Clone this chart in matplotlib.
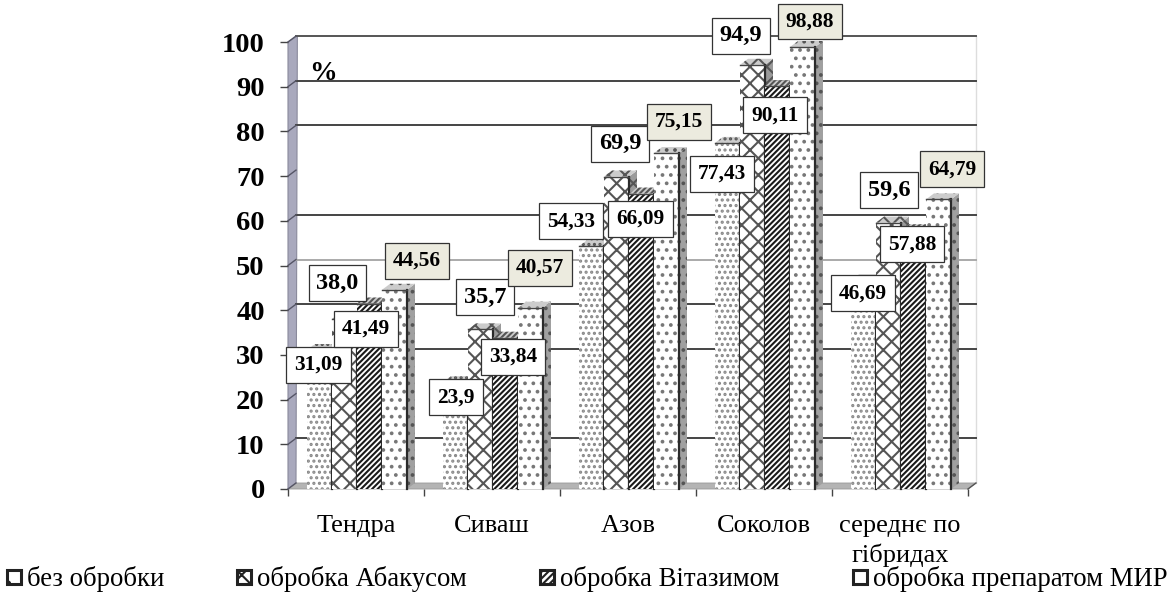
import numpy as np
import matplotlib
matplotlib.use('Agg')
import matplotlib.pyplot as plt
from matplotlib.patches import Polygon, Rectangle

plt.rcParams['font.family'] = ['Liberation Serif', 'DejaVu Serif']
plt.rcParams['hatch.linewidth'] = 1.5

categories = ['Тендра', 'Сиваш', 'Азов', 'Соколов', 'середнє по\nгібридах']
series_names = ['без обробки', 'обробка Абакусом', 'обробка Вітазимом', 'обробка препаратом МИР']
bez_obrobky = [31.09, 23.9, 54.33, 77.43, 46.69]
abakus = [38.0, 35.7, 69.9, 94.9, 59.6]
vitazym = [41.49, 33.84, 66.09, 90.11, 57.88]
mir = [44.56, 40.57, 75.15, 98.88, 64.79]
series = [bez_obrobky, abakus, vitazym, mir]
y_ticks = np.arange(0, 101, 10)

# label text as printed in the source, then offset from bar top in pixels
label_text = [['31,09', '23,9', '54,33', '77,43', '46,69'],
              ['38,0', '35,7', '69,9', '94,9', '59,6'],
              ['41,49', '33,84', '66,09', '90,11', '57,88'],
              ['44,56', '40,57', '75,15', '98,88', '64,79']]
label_dx = [[-1, 0.5, -20.5, -5.5, -0.5],
            [-7, 4.5, 3.5, -11.5, 0.5],
            [-3.5, 7.5, -1, -2.5, -1.5],
            [22.5, 9.5, 12.5, 7.5, 13.5]]
label_dy = [[-15, -15, 25, -31, -13],
            [36, 32, 33, 29, 32.6],
            [-25.5, -19, -25.4, -29, -14],
            [29, 40, 31, 25.5, 30]]

# back wall lines: some are missing or paler in the source
grid_cols = [None, '#444444', None, '#444444', '#444444', '#aaaaaa', '#444444', None, '#444444', '#444444', '#555555']

hatches = ['...', 'xx', '//////', '..']
hatch_cols = ['#888888', '#555555', '#1a1a1a', '#777777']
side_cols = ['#c8c8c8', '#9a9a9a', '#8a8a8a', '#a0a0a0']

W, H = 1172, 592
fig = plt.figure(figsize=(W / 100, H / 100), dpi=100)
ax = fig.add_axes([288 / W, (H - 489) / H, 680 / W, 447 / H])
ax.set_xlim(0, 5)
ax.set_ylim(0, 100)
for s in ax.spines.values():
    s.set_visible(False)

# 3d look: depth of chart in data units
ddx = 8 / 136
ddy = 6 / 4.47
bar_w = 25 / 136
start = 19 / 136

# walls
ax.add_patch(Polygon([(0, 0), (ddx, ddy), (ddx + 0.01, 100 + ddy), (0, 100)], closed=True,
                     facecolor='#a9a9bd', edgecolor='#8a8a9c', lw=0.8, clip_on=False, zorder=1))
ax.add_patch(Polygon([(0, 0), (ddx, ddy), (5 + ddx, ddy), (5, 0)], closed=True,
                     facecolor='#b4b4b4', edgecolor='#999999', lw=0.6, clip_on=False, zorder=1))
for t, c in zip(y_ticks, grid_cols):
    if c is not None:
        ax.plot([ddx, 5 + ddx], [t + ddy, t + ddy], color=c, lw=1.4, clip_on=False, zorder=1.5)
    ax.plot([0, ddx], [t, t + ddy], color='#555566', lw=1, clip_on=False, zorder=1.6)
ax.plot([5, 5 + ddx], [0, ddy], color='#555555', lw=1, clip_on=False, zorder=1.5)
ax.plot([5 + ddx, 5 + ddx], [ddy, 100 + ddy], color='#dddddd', lw=1, clip_on=False, zorder=1.2)

# bars
for j, vals in enumerate(series):
    x = np.arange(5) + start + j * bar_w
    z = 3 + j * 0.1
    ax.bar(x, vals, width=bar_w, align='edge', color='white', hatch=hatches[j],
           edgecolor=hatch_cols[j], linewidth=0, zorder=z)
    for xi, v in zip(x, vals):
        ax.add_patch(Polygon([(xi + bar_w, 0), (xi + bar_w + ddx, ddy), (xi + bar_w + ddx, v + ddy), (xi + bar_w, v)],
                             closed=True, facecolor=side_cols[j], hatch=hatches[j], edgecolor='#555555',
                             lw=0, clip_on=False, zorder=z - 0.05))
        ax.add_patch(Polygon([(xi, v), (xi + ddx, v + ddy), (xi + bar_w + ddx, v + ddy), (xi + bar_w, v)],
                             closed=True, facecolor='#cccccc', hatch=hatches[j], edgecolor='#555555',
                             lw=0, clip_on=False, zorder=z - 0.05))
        ax.plot([xi + bar_w, xi + bar_w], [0, v], color='#2a2a2a', lw=1.6, zorder=z + 0.01, clip_on=False)
        ax.plot([xi, xi + bar_w], [v, v], color='#444444', lw=1, zorder=z + 0.01, clip_on=False)

# value labels
for j, vals in enumerate(series):
    box_col = '#ecebdf' if j == 3 else 'white'
    for i, v in enumerate(vals):
        xi = i + start + j * bar_w + bar_w / 2
        # the one-decimal labels of the second series are set larger
        big = j == 1
        ax.annotate(label_text[j][i], (xi, v), xytext=(label_dx[j][i] * 0.72, label_dy[j][i] * 0.72),
                    textcoords='offset points', ha='center', va='center',
                    fontsize=17.5 if big else 15.4, fontweight='bold',
                    annotation_clip=False, zorder=10,
                    bbox=dict(boxstyle='square,pad=%s' % (0.31 if big else 0.37), facecolor=box_col,
                              edgecolor='#333333', linewidth=0.9))

ax.set_yticks(y_ticks)
ax.set_yticklabels([str(t) for t in y_ticks], fontsize=20.5, fontweight='bold')
ax.set_xticks(np.arange(6))
ax.set_xticklabels([])
ax.set_xticks(np.arange(5) + 0.5, minor=True)
ax.set_xticklabels(categories, minor=True, fontsize=19, linespacing=1.36)
ax.tick_params(axis='x', which='minor', length=0, pad=18.5)
ax.tick_params(axis='x', which='major', length=5, width=1, color='#444444')
ax.tick_params(axis='y', length=5.8, width=1, color='#444444', pad=11)

ax.text(0.154, 92.9, '%', fontsize=20, fontweight='bold', va='center', zorder=2)

# legend laid out by hand since the columns are uneven in the source
legend_x = [7, 237, 540, 853]
swatch_hatch = ['.', 'xx', '/////', '']
for name, lx, h in zip(series_names, legend_x, swatch_hatch):
    fig.add_artist(Rectangle((lx / W, (H - 584) / H), 14 / W, 14 / H, transform=fig.transFigure,
                             facecolor='white', edgecolor='#222222', lw=2.2, hatch=h))
    fig.text((lx + 20) / W, (H - 586) / H, name, fontsize=19.3, va='baseline')

fig.savefig('out.png', dpi=100, facecolor='white')
